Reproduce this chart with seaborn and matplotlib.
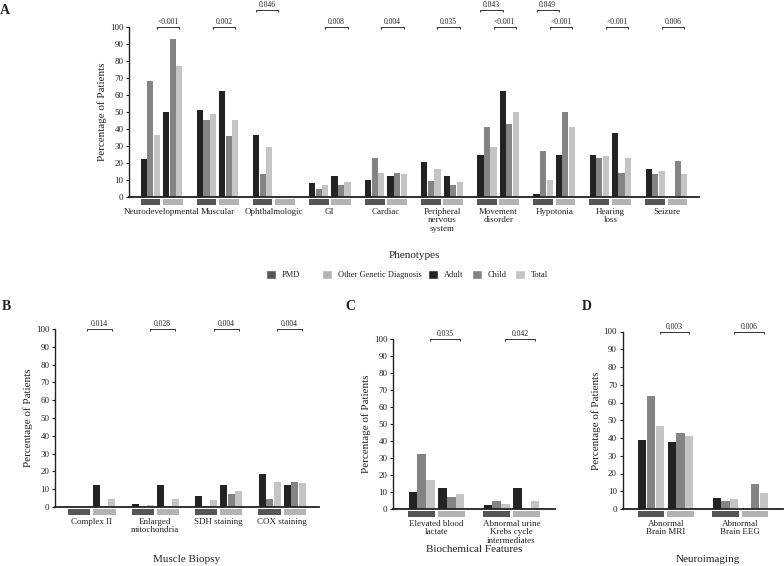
import numpy as np
import pandas as pd
import matplotlib
matplotlib.use('Agg')
import matplotlib.pyplot as plt
import seaborn as sns
from matplotlib.patches import Rectangle, Patch

sns.set_style('ticks')
plt.rcParams['font.family'] = ['Liberation Serif', 'DejaVu Serif']
plt.rcParams['text.color'] = '#222222'
plt.rcParams['axes.labelcolor'] = '#222222'
plt.rcParams['xtick.color'] = '#222222'
plt.rcParams['ytick.color'] = '#222222'

# ---------------- data (percentage of patients) ----------------
# A: phenotypes
pheno_cats = ['Neurodevelopmental', 'Muscular', 'Ophthalmologic', 'GI', 'Cardiac',
              'Peripheral\nnervous\nsystem', 'Movement\ndisorder', 'Hypotonia',
              'Hearing\nloss', 'Seizure']
pheno_pmd_adult = [22.2, 51.0, 36.7, 8.0, 10.0, 20.4, 24.5, 2.0, 24.5, 16.3]
pheno_pmd_child = [68.0, 45.5, 13.5, 4.5, 22.7, 9.2, 41.0, 27.3, 22.7, 13.5]
pheno_pmd_total = [36.7, 49.0, 29.4, 7.0, 14.0, 16.7, 29.6, 9.8, 23.9, 15.5]
pheno_oth_adult = [50.0, 62.5, 0.0, 12.5, 12.5, 12.5, 62.5, 25.0, 37.5, 0.0]
pheno_oth_child = [92.9, 35.7, 0.0, 7.1, 14.3, 7.1, 42.9, 50.0, 14.3, 21.4]
pheno_oth_total = [77.3, 45.5, 0.0, 9.1, 13.6, 9.1, 50.0, 40.9, 22.7, 13.6]
pheno_p_total = ['<0.001', '0.002', None, '0.008', '0.004', '0.035', '<0.001', '<0.001', '<0.001', '0.006']
pheno_p_adult = [None, None, '0.046', None, None, None, '0.043', '0.049', None, None]

# B: muscle biopsy
biopsy_cats = ['Complex II', 'Enlarged\nmitochondria', 'SDH staining', 'COX staining']
biopsy_pmd_adult = [0.0, 1.9, 6.2, 18.3]
biopsy_pmd_child = [0.0, 0.0, 0.0, 4.5]
biopsy_pmd_total = [0.0, 1.1, 4.1, 13.8]
biopsy_oth_adult = [12.5, 12.5, 12.5, 12.5]
biopsy_oth_child = [0.0, 0.0, 7.1, 14.3]
biopsy_oth_total = [4.5, 4.5, 9.1, 13.6]
biopsy_p_total = ['0.014', '0.028', '0.004', '0.004']

# C: biochemical features
biochem_cats = ['Elevated blood\nlactate', 'Abnormal urine\nKrebs cycle\nintermediates']
biochem_pmd_adult = [10.2, 2.2]
biochem_pmd_child = [32.2, 4.5]
biochem_pmd_total = [17.1, 2.9]
biochem_oth_adult = [12.5, 12.5]
biochem_oth_child = [7.1, 0.0]
biochem_oth_total = [9.1, 4.5]
biochem_p_total = ['0.035', '0.042']

# D: neuroimaging
neuro_cats = ['Abnormal\nBrain MRI', 'Abnormal\nBrain EEG']
neuro_pmd_adult = [38.6, 6.0]
neuro_pmd_child = [63.6, 4.5]
neuro_pmd_total = [46.5, 5.6]
neuro_oth_adult = [37.5, 0.0]
neuro_oth_child = [42.9, 14.3]
neuro_oth_total = [40.9, 9.1]
neuro_p_total = ['0.003', '0.006']

AGES = ['Adult', 'Child', 'Total']
GROUPS = ['PMD', 'Other']
age_colors = {'Adult': '#232323', 'Child': '#848484', 'Total': '#c4c4c4'}
group_colors = {'PMD': '#565656', 'Other': '#b3b3b3'}

# bar layout inside one category
BW = 0.117
GAP = 0.046
start = -(6 * BW + GAP) / 2 + BW / 2
offsets = {'PMD': [start + k * BW for k in range(3)],
           'Other': [start + 3 * BW + GAP + k * BW for k in range(3)]}


def make_frame(cats, pmd, oth):
    rows = []
    for i, c in enumerate(cats):
        for g, vals in (('PMD', pmd), ('Other', oth)):
            for j, age in enumerate(AGES):
                rows.append({'cat': c, 'group': g, 'age': age,
                             'value': vals[j][i], 'pos': i + offsets[g][j]})
    return pd.DataFrame(rows)


def bracket(ax, x0, x1, y, label, unit):
    h = 2.2 * unit
    ax.plot([x0, x0, x1, x1], [y - h, y, y, y - h], color='#333333', lw=0.7,
            clip_on=False, solid_capstyle='butt')
    ax.annotate(label, xy=((x0 + x1) / 2, y), xytext=(0, 0.6), textcoords='offset points',
                ha='center', va='bottom', fontsize=5.5, annotation_clip=False)


W, H = 784, 566
fig = plt.figure(figsize=(W / 100, H / 100), dpi=100)


def add_axes_px(left, top, right, bottom):
    ax = fig.add_axes([left / W, 1 - bottom / H, (right - left) / W, (bottom - top) / H])
    return ax, bottom - top


def draw_panel(ax, hpx, cats, pmd, oth, p_total, p_adult=None):
    df = make_frame(cats, pmd, oth)
    sns.barplot(data=df, x='pos', y='value', hue='age', hue_order=AGES,
                palette=age_colors, native_scale=True, dodge=False, width=0.94,
                saturation=1, errorbar=None, legend=False, orient='x',
                linewidth=0, ax=ax)
    n = len(cats)
    ax.set_xlim(-0.58, n - 0.42)
    ax.set_ylim(0, 100)
    ax.set_yticks(range(0, 101, 10))
    ax.set_xticks(range(n))
    ax.set_xticklabels(cats, fontsize=6.5, linespacing=1.05)
    ax.tick_params(axis='x', length=0, pad=8)
    ax.tick_params(axis='y', labelsize=6.5, length=2.5, width=0.8, pad=1.5)
    ax.set_xlabel('')
    ax.set_ylabel('Percentage of Patients', fontsize=8, labelpad=2)
    sns.despine(ax=ax)
    ax.spines['left'].set_linewidth(1.0)
    ax.spines['bottom'].set_linewidth(1.3)
    ax.spines['left'].set_color('#222222')
    ax.spines['bottom'].set_color('#222222')

    # group strips under the x axis
    top = -2.0 / hpx
    ht = 5.5 / hpx
    for i in range(n):
        for g in GROUPS:
            x0 = i + offsets[g][0] - BW / 2
            ax.add_patch(Rectangle((x0, top - ht), 3 * BW, ht,
                                   transform=ax.get_xaxis_transform(),
                                   facecolor=group_colors[g], lw=0, clip_on=False))

    unit = 100.0 / hpx
    for i, p in enumerate(p_total):
        if p:
            bracket(ax, i + offsets['PMD'][2], i + offsets['Other'][2], 100, p, unit)
    if p_adult:
        for i, p in enumerate(p_adult):
            if p:
                bracket(ax, i + offsets['PMD'][0], i + offsets['Other'][0], 110, p, unit)


axA, hA = add_axes_px(129, 27, 699, 197)
draw_panel(axA, hA, pheno_cats,
           [pheno_pmd_adult, pheno_pmd_child, pheno_pmd_total],
           [pheno_oth_adult, pheno_oth_child, pheno_oth_total],
           pheno_p_total, pheno_p_adult)

axB, hB = add_axes_px(55, 329, 319, 507)
draw_panel(axB, hB, biopsy_cats,
           [biopsy_pmd_adult, biopsy_pmd_child, biopsy_pmd_total],
           [biopsy_oth_adult, biopsy_oth_child, biopsy_oth_total],
           biopsy_p_total)

axC, hC = add_axes_px(393, 339, 555, 509)
draw_panel(axC, hC, biochem_cats,
           [biochem_pmd_adult, biochem_pmd_child, biochem_pmd_total],
           [biochem_oth_adult, biochem_oth_child, biochem_oth_total],
           biochem_p_total)

axD, hD = add_axes_px(622.5, 331.5, 783.5, 509)
draw_panel(axD, hD, neuro_cats,
           [neuro_pmd_adult, neuro_pmd_child, neuro_pmd_total],
           [neuro_oth_adult, neuro_oth_child, neuro_oth_total],
           neuro_p_total)

# axis titles
def ftext(x, y, s, **kw):
    fig.text(x / W, 1 - y / H, s, ha='center', va='center', **kw)

ftext(414, 255, 'Phenotypes', fontsize=8)
ftext(187, 560, 'Muscle Biopsy', fontsize=8)
ftext(474, 550, 'Biochemical Features', fontsize=8)
ftext(708, 560, 'Neuroimaging', fontsize=8)

# panel letters
ftext(5, 10, 'A', fontsize=10, fontweight='bold')
ftext(6, 306, 'B', fontsize=10, fontweight='bold')
ftext(350, 307, 'C', fontsize=10, fontweight='bold')
ftext(587, 307, 'D', fontsize=10, fontweight='bold')

# legends: group strips, then age classes right after
leg_kw = dict(frameon=False, fontsize=6, handlelength=1.2, handleheight=1.2,
              handletextpad=0.7, borderpad=0, borderaxespad=0, loc='center left')
h1 = [Patch(facecolor=group_colors['PMD']), Patch(facecolor=group_colors['Other'])]
l1 = fig.legend(h1, ['PMD', 'Other Genetic Diagnosis'], ncol=2, columnspacing=2.6,
                bbox_to_anchor=(266 / W, 1 - 274.5 / H), **leg_kw)
fig.canvas.draw()
bb = l1.get_window_extent(fig.canvas.get_renderer())
h2 = [Patch(facecolor=age_colors[a]) for a in AGES]
fig.legend(h2, AGES, ncol=3, columnspacing=1.0,
           bbox_to_anchor=((bb.x1 + 7) / W, 1 - 274.5 / H), **leg_kw)

fig.savefig('out.png', dpi=100)
